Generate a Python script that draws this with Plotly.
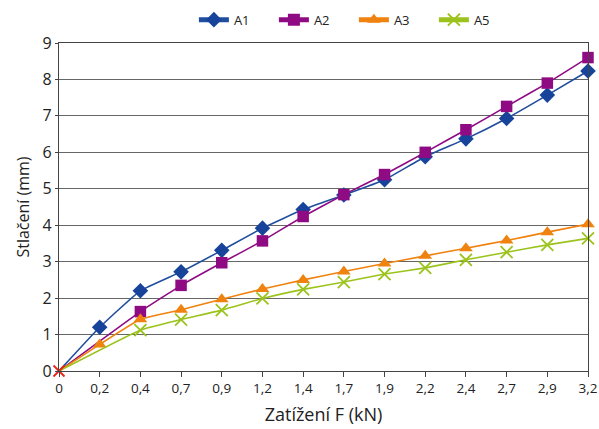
import plotly.graph_objects as go

categories = ["0", "0,2", "0,4", "0,7", "0,9", "1,2", "1,4", "1,7", "1,9", "2,2", "2,4", "2,7", "2,9", "3,2"]
a1 = [0, 1.2, 2.2, 2.72, 3.31, 3.92, 4.43, 4.83, 5.25, 5.88, 6.37, 6.93, 7.57, 8.23]
a2 = [0, None, 1.63, 2.35, 2.97, 3.57, 4.24, 4.84, 5.39, 6.0, 6.62, 7.26, 7.9, 8.6]
a3 = [0, 0.73, 1.42, 1.68, 1.97, 2.25, 2.5, 2.73, 2.95, 3.16, 3.37, 3.58, 3.81, 4.03]
a5 = [0, None, 1.12, 1.41, 1.67, 1.99, 2.24, 2.44, 2.66, 2.83, 3.05, 3.26, 3.46, 3.64]

xs = list(range(len(categories)))
n = len(categories)


def sizes(first, rest):
    return [first] + [rest] * (n - 1)


green = "#9bc31c"

fig = go.Figure()
fig.add_trace(go.Scatter(x=xs, y=a1, name="A1", mode="lines+markers", cliponaxis=False,
                         line=dict(color="#1f4e9e", width=1.6, shape="spline", smoothing=0.4),
                         marker=dict(symbol="diamond", size=sizes(0, 12), color="#17449a",
                                     opacity=1, line=dict(width=0))))
fig.add_trace(go.Scatter(x=xs, y=a2, name="A2", mode="lines+markers", connectgaps=True, cliponaxis=False,
                         line=dict(color="#8e0b84", width=1.6, shape="spline", smoothing=0.3),
                         marker=dict(symbol="square", size=sizes(0, 11.5), color="#8e0b84",
                                     opacity=1, line=dict(width=0))))
fig.add_trace(go.Scatter(x=xs, y=a3, name="A3", mode="lines+markers", cliponaxis=False,
                         line=dict(color="#f0820f", width=1.6, shape="spline", smoothing=0.3),
                         marker=dict(symbol="triangle-up", size=sizes(0, 12), color="#f0820f",
                                     opacity=1, line=dict(width=0))))
fig.add_trace(go.Scatter(x=xs, y=a5, name="A5", mode="lines+markers", connectgaps=True, cliponaxis=False,
                         line=dict(color=green, width=1.6, shape="spline", smoothing=0.4),
                         marker=dict(symbol="x-thin-open", size=sizes(0, 12), color=green,
                                     opacity=1, line=dict(width=1.8, color=green))))
# red cross at the common origin
fig.add_trace(go.Scatter(x=xs[:1], y=a5[:1], mode="markers", showlegend=False, cliponaxis=False,
                         hoverinfo="skip",
                         marker=dict(symbol="x-thin-open", size=11, color="#e8231c",
                                     line=dict(width=1.8, color="#e8231c"))))

fig.update_layout(
    width=599, height=429,
    margin=dict(l=59, r=11, t=43, b=58, autoexpand=False),
    paper_bgcolor="white", plot_bgcolor="white",
    hovermode=False,
    font=dict(family="Open Sans, Noto Sans, sans-serif", color="#222"),
    legend=dict(orientation="h", x=0.255, xanchor="left", y=1.071, yanchor="middle",
                font=dict(size=13), entrywidth=35, entrywidthmode="pixels",
                itemsizing="constant", bgcolor="rgba(0,0,0,0)"),
    xaxis=dict(range=[0, n - 1], tickmode="array", tickvals=xs, ticktext=categories,
               showgrid=False, zeroline=False, showline=True, linecolor="#444", linewidth=1.2,
               mirror=True, ticks="outside", ticklen=5, tickcolor="#444",
               tickfont=dict(size=13.5), automargin=False,
               title=dict(text="Zatížení F (kN)", font=dict(size=18), standoff=12)),
    yaxis=dict(range=[0, 9], tickvals=list(range(10)), showgrid=True, gridcolor="#666",
               gridwidth=1.2, zeroline=False, showline=True, linecolor="#444", linewidth=1.2,
               mirror=True, ticks="outside", ticklen=3, tickcolor="#444",
               tickfont=dict(size=16), automargin=False,
               title=dict(text="Stlačení (mm)", font=dict(size=16), standoff=8)),
)

fig.write_html("out.html", config={"displayModeBar": False},
               post_script="document.body.style.margin='0';")
